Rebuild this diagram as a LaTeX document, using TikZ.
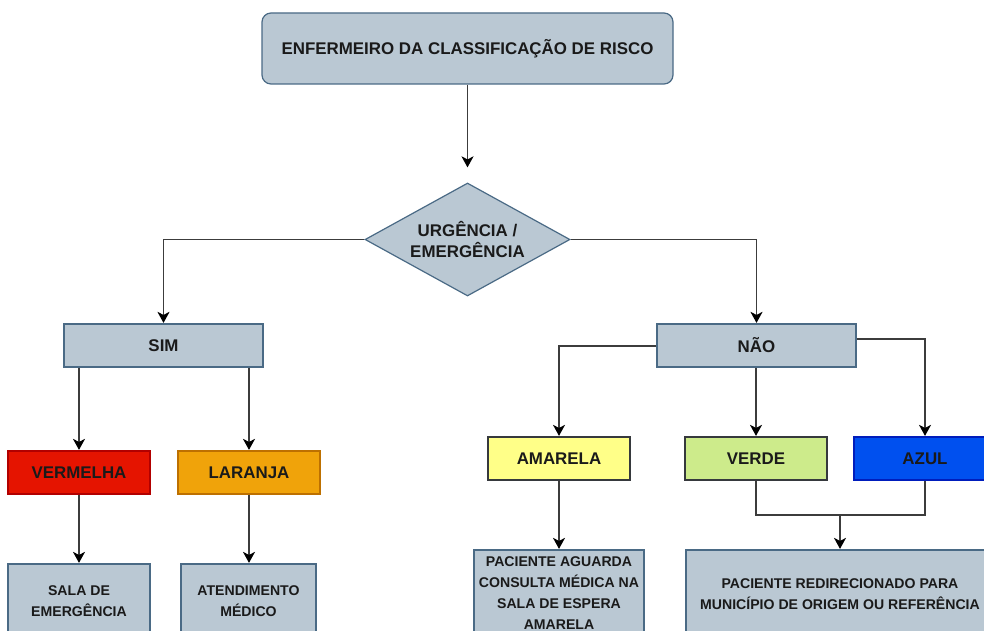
\documentclass[tikz,border=0pt]{standalone}
\usepackage{fontspec}
\setmainfont{Liberation Sans}
\usetikzlibrary{arrows.meta,shapes.geometric}
\definecolor{boxfill}{HTML}{BAC8D3}
\definecolor{boxline}{HTML}{4A6A85}
\definecolor{wire}{HTML}{3C3C3C}
\definecolor{txt}{HTML}{1A1A1A}
\definecolor{redfill}{HTML}{E51400}
\definecolor{redline}{HTML}{B20000}
\definecolor{orfill}{HTML}{F0A30A}
\definecolor{orline}{HTML}{BD7000}
\definecolor{yelfill}{HTML}{FFFF88}
\definecolor{grline}{HTML}{36393D}
\definecolor{grnfill}{HTML}{CDEB8B}
\definecolor{bluefill}{HTML}{0050EF}
\definecolor{blueline}{HTML}{001DBC}
\begin{document}
\begin{tikzpicture}[x=1pt,y=-1pt,
  base/.style={draw=boxline, fill=boxfill, line width=1.2pt, inner sep=0pt, align=center, text=txt},
  big/.style={font=\bfseries\fontsize{16.9}{20}\selectfont},
  small/.style={font=\bfseries\fontsize{14.1}{21}\selectfont},
  rowbox/.style={base, big, minimum width=199pt, minimum height=43pt},
  colbox/.style={base, big, minimum width=142pt, minimum height=43pt},
  wirestyle/.style={draw=wire, line width=1.5pt},
  conn/.style={wirestyle, -{Stealth[length=11pt,width=12pt,inset=3pt,color=black]}, shorten >=0.5pt}
]
\useasboundingbox (0,0) rectangle (984,631);
\clip (0,0) rectangle (984,631);

\node[base, big, rounded corners=9pt, minimum width=411pt, minimum height=71pt] (top) at (467.5,48.5) {ENFERMEIRO DA CLASSIFICAÇÃO DE RISCO};
\node[base, big, shape=diamond, aspect=1.81, minimum width=205pt, minimum height=113pt, font=\bfseries\fontsize{16.9}{21}\selectfont] (dec) at (467.5,239.5) {URGÊNCIA /\\EMERGÊNCIA};

\node[rowbox] (sim) at (163.5,345.5) {SIM};
\node[rowbox] (nao) at (756.5,345.5) {NÃO};

\node[colbox, fill=redfill, draw=redline] (verm) at (79,472.5) {VERMELHA};
\node[colbox, fill=orfill, draw=orline] (lar) at (249,472.5) {LARANJA};
\node[colbox, fill=yelfill, draw=grline] (amar) at (559,458.5) {AMARELA};
\node[colbox, fill=grnfill, draw=grline] (verde) at (756,458.5) {VERDE};
\node[colbox, fill=bluefill, draw=blueline] (azul) at (925,458.5) {AZUL};

\node[base, small, minimum width=142pt, minimum height=74pt] (sala) at (79,601) {SALA DE\\EMERGÊNCIA};
\node[base, small, minimum width=135pt, minimum height=74pt] (atend) at (248.5,601) {ATENDIMENTO\\MÉDICO};
\node[base, small, minimum width=170pt, minimum height=87pt] (aguarda) at (559,593.5) {PACIENTE AGUARDA\\CONSULTA MÉDICA NA\\SALA DE ESPERA\\AMARELA};
\node[base, small, minimum width=308pt, minimum height=88pt] (redir) at (840,594) {PACIENTE REDIRECIONADO PARA\\MUNICÍPIO DE ORIGEM OU REFERÊNCIA};

\draw[conn, shorten >=15pt] (top.south) -- (dec.north);
\draw[conn] (dec.west) -| (sim.north);
\draw[conn] (dec.east) -| (nao.north);
\draw[conn] (sim.south -| verm.north) -- (verm.north);
\draw[conn] (sim.south -| lar.north) -- (lar.north);
\draw[conn] (verm.south) -- (sala.north -| verm.south);
\draw[conn] (lar.south) -- (atend.north -| lar.south);
\draw[conn] ([yshift=-0.5pt]nao.west) -| (amar.north);
\draw[conn] (nao.south -| verde.north) -- (verde.north);
\draw[conn] ([yshift=6.5pt]nao.east) -| (azul.north);
\draw[conn] (amar.south) -- (aguarda.north -| amar.south);
\coordinate (join) at (840,515);
\draw[wirestyle] (verde.south) |- (join) -| (azul.south);
\draw[conn] (join) -- (redir.north);
\end{tikzpicture}
\end{document}
